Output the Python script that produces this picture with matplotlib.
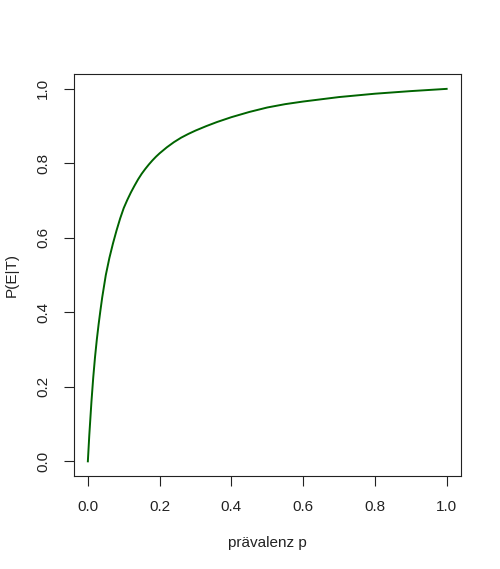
import matplotlib
matplotlib.use("agg")
import matplotlib.pyplot as plt

# values
p = [0.0, 0.004, 0.01, 0.015, 0.02, 0.025, 0.03, 0.035, 0.04, 0.045, 0.05, 0.06,
     0.07, 0.08, 0.09, 0.10, 0.11, 0.12, 0.13, 0.14, 0.15, 0.16, 0.17, 0.18,
     0.19, 0.20, 0.22, 0.24, 0.26, 0.28, 0.30, 0.33, 0.36, 0.40, 0.45, 0.50,
     0.55, 0.60, 0.70, 0.80, 0.90, 1.00]
pet = [0.0, 0.07, 0.16, 0.225, 0.28, 0.327, 0.368, 0.405, 0.44, 0.47, 0.50, 0.546,
       0.585, 0.62, 0.652, 0.68, 0.702, 0.722, 0.74, 0.757, 0.772, 0.785, 0.797, 0.808,
       0.818, 0.827, 0.843, 0.857, 0.869, 0.879, 0.888, 0.90, 0.911, 0.924, 0.938, 0.95,
       0.959, 0.966, 0.978, 0.987, 0.994, 1.0]
ticks = [0.0, 0.2, 0.4, 0.6, 0.8, 1.0]

plt.rcParams['font.family'] = ['Liberation Sans', 'DejaVu Sans']
plt.rcParams['font.size'] = 11

fig = plt.figure(figsize=(5, 5.69), dpi=100)
ax = fig.add_axes([0.147, 0.163, 0.775, 0.707])

ax.plot(p, pet, color='#006400', lw=1.4)

ax.set_xlim(-0.04, 1.04)
ax.set_ylim(-0.04, 1.04)
ax.set_xticks(ticks)
ax.set_yticks(ticks)
ax.set_xticklabels(["%.1f" % t for t in ticks])
ax.set_yticklabels(["%.1f" % t for t in ticks], rotation=90, va='center')
ax.tick_params(direction='out', length=7, width=0.8, pad=10, colors='#222222', labelcolor='#222222')
for s in ax.spines.values():
    s.set_linewidth(0.8)
    s.set_color('#222222')

ax.set_xlabel("prävalenz p", labelpad=16, color='#222222')
ax.set_ylabel("P(E|T)", labelpad=12, color='#222222')

fig.savefig("out.png", dpi=100)
